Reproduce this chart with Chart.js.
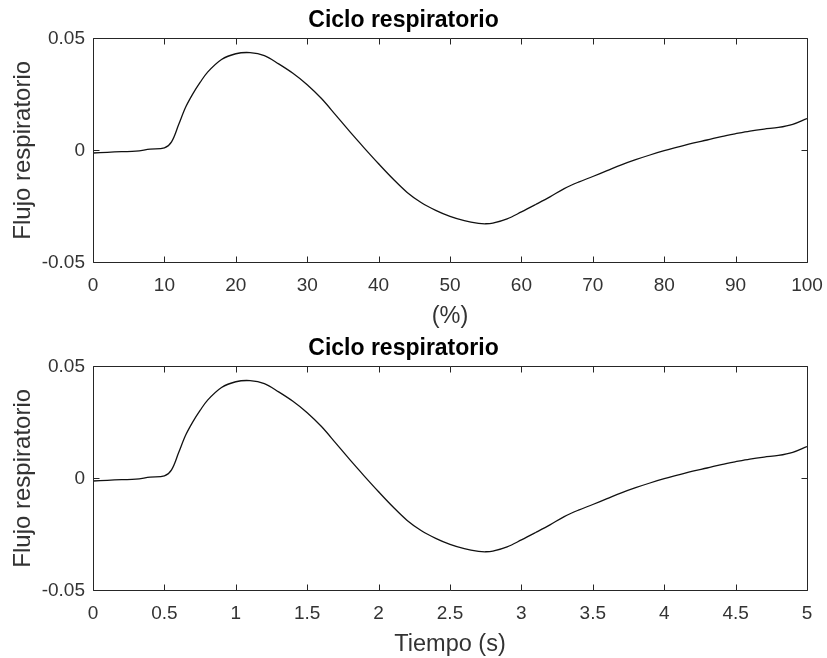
<!DOCTYPE html>
<html>
<head>
<meta charset="utf-8">
<script src="https://cdn.jsdelivr.net/npm/chart.js@4/dist/chart.umd.min.js"></script>
<style>
  html, body { margin: 0; padding: 0; background: #fff; }
  #wrap { position: relative; width: 827px; height: 658px; }
  .box { position: absolute; left: 0; width: 827px; height: 329px; }
</style>
</head>
<body>
<div id="wrap">
  <div class="box" style="top:0"><canvas id="c1"></canvas></div>
  <div class="box" style="top:328px"><canvas id="c2"></canvas></div>
</div>
<script>
// ---- data ----
const porcentaje = [0,2,4,6,8,10,11,12,13,14,15,16,18,20,22,24,26,28,30,32,34,36,38,40,42,44,46,48,50,52,54,55,56,58,60,62,64,66,68,70,72,74,76,78,80,82,84,86,88,90,92,94,96,98,100];
const tiempo = [0,0.1,0.2,0.3,0.4,0.5,0.55,0.6,0.65,0.7,0.75,0.8,0.9,1.0,1.1,1.2,1.3,1.4,1.5,1.6,1.7,1.8,1.9,2.0,2.1,2.2,2.3,2.4,2.5,2.6,2.7,2.75,2.8,2.9,3.0,3.1,3.2,3.3,3.4,3.5,3.6,3.7,3.8,3.9,4.0,4.1,4.2,4.3,4.4,4.5,4.6,4.7,4.8,4.9,5.0];
const flujo = [-0.0012,-0.0009,-0.0006,-0.0004,0.0005,0.0011,0.0038,0.0115,0.0194,0.0253,0.0303,0.0347,0.0405,0.0431,0.0436,0.0423,0.0386,0.0344,0.0293,0.0231,0.0157,0.0082,0.0010,-0.0060,-0.0127,-0.0188,-0.0234,-0.0268,-0.0295,-0.0314,-0.0326,-0.0328,-0.0325,-0.0306,-0.0275,-0.0242,-0.0208,-0.0171,-0.0142,-0.0117,-0.0091,-0.0065,-0.0042,-0.0021,-0.0002,0.0015,0.0032,0.0046,0.0061,0.0074,0.0086,0.0095,0.0102,0.0116,0.0142];
const yTicks = [-0.05, 0, 0.05];
const xTicksPct = [0,10,20,30,40,50,60,70,80,90,100];
const xTicksTiempo = [0,0.5,1,1.5,2,2.5,3,3.5,4,4.5,5];
const titulo = 'Ciclo respiratorio';
const yLabel = 'Flujo respiratorio';
const xLabelPct = '(%)';
const xLabelTiempo = 'Tiempo (s)';

const FONT = '"Liberation Sans", Arial, Helvetica, sans-serif';
const AX = '#262626';
const TXT = '#333333';

const boxPlugin = {
  id: 'matlabBox',
  afterDatasetsDraw(chart) {
    const {ctx, chartArea: a, scales} = chart;
    ctx.save();
    ctx.strokeStyle = AX;
    ctx.lineWidth = 1;
    ctx.beginPath();
    const L = Math.round(a.left) + 0.5, R = Math.round(a.right) + 0.5;
    const T = Math.round(a.top) + 0.5, B = Math.round(a.bottom) + 0.5;
    ctx.rect(L, T, R - L, B - T);
    const tl = 6;
    scales.x.ticks.forEach(t => {
      const px = Math.round(scales.x.getPixelForValue(t.value)) + 0.5;
      ctx.moveTo(px, B); ctx.lineTo(px, B - tl);
      ctx.moveTo(px, T); ctx.lineTo(px, T + tl);
    });
    scales.y.ticks.forEach(t => {
      const py = Math.round(scales.y.getPixelForValue(t.value)) + 0.5;
      ctx.moveTo(L, py); ctx.lineTo(L + tl, py);
      ctx.moveTo(R, py); ctx.lineTo(R - tl, py);
    });
    ctx.stroke();
    ctx.restore();
  }
};

function makeChart(id, xs, ticksX, xLabel) {
  const pts = xs.map((x, i) => ({x: x, y: flujo[i]}));
  return new Chart(document.getElementById(id), {
    type: 'line',
    data: { datasets: [{ data: pts, borderColor: '#111', borderWidth: 1.3, pointRadius: 0,
      fill: false, tension: 0.35 }] },
    options: {
      responsive: true, maintainAspectRatio: false, animation: false,
      layout: { padding: { left: 0, right: 20, top: 0, bottom: 0 } },
      plugins: {
        legend: { display: false }, tooltip: { enabled: false },
        title: { display: true, text: titulo, color: '#000',
          font: { family: FONT, size: 23, weight: 'bold', lineHeight: 1.2 },
          padding: { top: 7, bottom: 3.7 } }
      },
      scales: {
        x: {
          type: 'linear', min: xs[0], max: xs[xs.length - 1],
          afterBuildTicks: s => { s.ticks = ticksX.map(v => ({value: v})); },
          afterFit: s => { s.height = 66.7; s.paddingLeft = 0; s.paddingRight = 0; },
          grid: { display: false, drawTicks: false, tickLength: 0 }, border: { display: false },
          ticks: { color: TXT, padding: 12, maxRotation: 0, autoSkip: false,
            font: { family: FONT, size: 19 }, callback: v => String(v) },
          title: { display: true, text: xLabel, color: TXT,
            font: { family: FONT, size: 23.5, lineHeight: 1.0 }, padding: { top: 0, bottom: 1 } }
        },
        y: {
          type: 'linear', min: -0.05, max: 0.05,
          afterBuildTicks: s => { s.ticks = yTicks.map(v => ({value: v})); },
          afterFit: s => { s.width = 93; },
          grid: { display: false, drawTicks: false, tickLength: 0 }, border: { display: false },
          ticks: { color: TXT, padding: 8, font: { family: FONT, size: 19 },
            callback: v => String(Math.round(v * 100) / 100) },
          title: { display: true, text: yLabel, color: TXT,
            font: { family: FONT, size: 24, lineHeight: 1.2 }, padding: { top: 8.6, bottom: 0 } }
        }
      }
    },
    plugins: [boxPlugin]
  });
}

makeChart('c1', porcentaje, xTicksPct, xLabelPct);
makeChart('c2', tiempo, xTicksTiempo, xLabelTiempo);
</script>
</body>
</html>
